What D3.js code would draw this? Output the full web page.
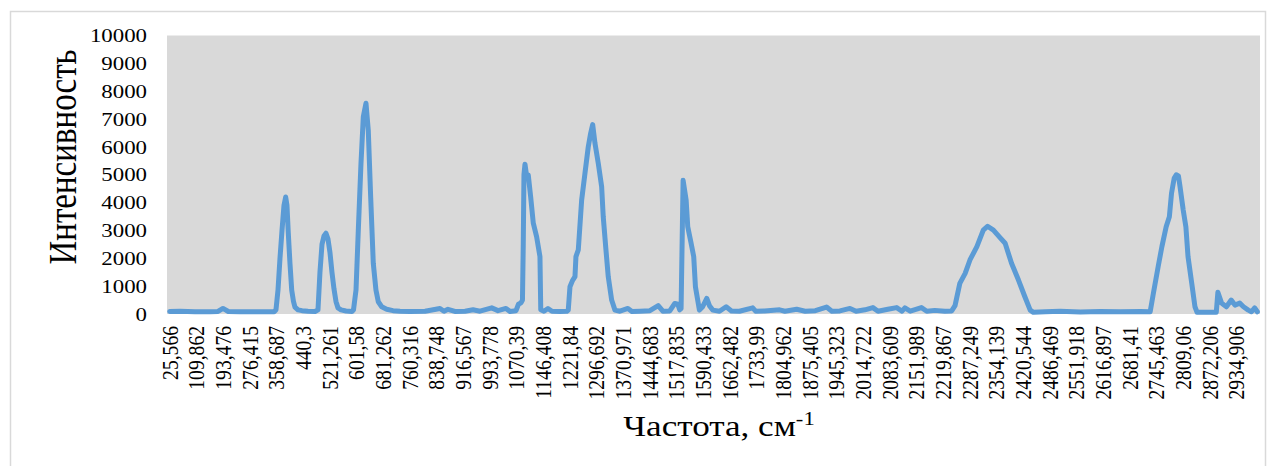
<!DOCTYPE html>
<html>
<head>
<meta charset="utf-8">
<script src="https://cdn.jsdelivr.net/npm/d3@7/dist/d3.min.js"></script>
<style>
  html, body { margin: 0; padding: 0; background: #ffffff; }
  svg { display: block; }
  text { font-family: "Liberation Serif", "Times New Roman", serif; fill: #000; }
</style>
</head>
<body>
<svg id="chart" width="1277" height="466"></svg>
<script>
// Wavenumber labels shown on the category axis (every 5th category)
const tickLabels = [
  "25,566", "109,862", "193,476", "276,415", "358,687", "440,3", "521,261",
  "601,58", "681,262", "760,316", "838,748", "916,567", "993,778", "1070,39",
  "1146,408", "1221,84", "1296,692", "1370,971", "1444,683", "1517,835",
  "1590,433", "1662,482", "1733,99", "1804,962", "1875,405", "1945,323",
  "2014,722", "2083,609", "2151,989", "2219,867", "2287,249", "2354,139",
  "2420,544", "2486,469", "2551,918", "2616,897", "2681,41", "2745,463",
  "2809,06", "2872,206", "2934,906"
];
const categoryCount = 205;
const labelEvery = 5;

// Intensity ticks
const yTickValues = [0, 1000, 2000, 3000, 4000, 5000, 6000, 7000, 8000, 9000, 10000];

// Spectrum: position along the category axis and measured intensity
const catPos = [
  0, 1.94, 4.75, 7.57, 9.07, 10.0, 11.0, 13.2, 16.9, 19.6,
  19.94, 20.32, 20.69, 21.07, 21.44, 21.76, 22.0, 22.25, 22.57, 22.89,
  23.22, 23.5, 24.07, 24.82, 25.94, 27.26,
  27.82, 28.19, 28.57, 28.94, 29.32, 29.69, 30.07, 30.44, 30.82, 31.19,
  31.57, 32.13, 33.07, 34.19,
  34.48, 34.95, 35.38, 35.88, 36.32, 36.82, 37.25, 37.7, 38.19, 38.69,
  39.13, 39.77, 40.7, 41.89,
  43.2, 45.07, 47.9, 50.7, 51.45, 52.2, 53.5, 55.4, 56.9, 58.2,
  60.4, 61.58, 63.08, 63.83, 64.96,
  65.42, 65.89, 66.17, 66.32, 66.45, 66.64, 66.92, 67.26, 67.71, 68.2,
  68.83, 69.45, 69.6, 70.2, 70.95, 71.7, 73.2, 74.5,
  74.76, 75.08, 75.55, 76.02, 76.2, 76.64, 77.27, 77.89, 78.51, 78.96,
  79.34, 79.77, 80.39, 81.02, 81.32, 81.83, 82.26, 82.9, 83.52,
  84.45, 85.95, 86.7, 88.2, 90.07, 91.63, 92.5, 93.8, 94.74, 95.3, 95.67,
  95.92, 96.3, 96.87, 97.17, 97.8, 98.29, 98.61, 99.36, 99.92, 100.74,
  101.24, 101.86, 103.12, 104.37, 105.37, 106.87, 109.35, 109.9,
  111.6, 114.4, 115.4, 117.6, 119.2, 121.1, 123.2, 124.2, 125.7, 127.6,
  128.75, 130.4, 131.9, 132.85, 134.7, 136.35, 137.35, 137.9, 138.9, 141.0,
  142.0, 143.5, 145.4, 146.67,
  147.3, 148.2, 149.2, 150.1, 151.4, 152.6, 153.4, 154.5, 155.7, 156.7,
  157.9, 159.2, 160.4, 161.4, 162.0,
  164.2, 167.0, 170.8, 174.5, 178.3, 182.1, 183.9,
  184.5, 185.4, 186.1, 186.9, 187.5, 187.9, 188.4, 188.8, 189.2, 189.5,
  190.1, 190.6, 191.0, 191.7, 192.3, 192.7, 194.1, 196.3,
  196.6, 197.3, 197.7, 198.2, 199.1, 199.8, 200.7, 201.4, 202.3, 202.9,
  203.5, 204.0
];
const intensity = [
  90, 100, 80, 80, 90, 200, 90, 80, 80, 80,
  150, 860, 2000, 3000, 3900, 4200, 3900, 2900, 1800, 860,
  450, 250, 150, 120, 100, 90,
  150, 1500, 2500, 2800, 2900, 2700, 2200, 1500, 900, 450,
  220, 150, 110, 90,
  150, 860, 3000, 5400, 7080, 7570, 6600, 4200, 1820, 860,
  440, 260, 170, 120,
  100, 90, 100, 200, 100, 170, 90, 100, 150, 100,
  220, 120, 200, 90, 120,
  350, 400, 500, 2500, 5000, 5380, 5000, 4990, 4200, 3260,
  2770, 2060, 150, 100, 200, 100, 90, 100,
  140, 980, 1200, 1340, 2060, 2300, 4090, 5050, 6000, 6490,
  6800, 6130, 5410, 4570, 3490, 2300, 1340, 500, 140,
  100, 200, 90, 100, 120, 300, 100, 110, 380, 350, 150,
  200, 4800, 4090, 3130, 2540, 2060, 980, 140, 250, 560,
  300, 140, 100, 260, 110, 100, 220, 100,
  110, 150, 100, 170, 100, 120, 250, 100, 110, 200,
  100, 150, 230, 100, 170, 230, 100, 220, 100, 230,
  100, 130, 100, 110,
  300, 1100, 1460, 1940, 2420, 3010, 3150, 3010, 2750, 2540,
  1820, 1220, 620, 140, 60,
  80, 100, 70, 90, 80, 90, 80,
  740, 1700, 2420, 3130, 3490, 4330, 4870, 5000, 4960, 4570,
  3730, 3130, 2060, 1100, 260, 60, 60, 60,
  780, 390, 330, 260, 500, 320, 390, 260, 140, 80,
  220, 80
];

const svg = d3.select("#chart");
const plot = { left: 167, right: 1260, top: 35.5, bottom: 314 };
const sx = 1.19; // horizontal stretch applied to text

// Outer chart frame
svg.append("rect")
  .attr("x", 10.5).attr("y", 11.5)
  .attr("width", 1255).attr("height", 470)
  .attr("fill", "#fff")
  .attr("stroke", "#d9d9d9").attr("stroke-width", 1.5);

// Plot area background
svg.append("rect")
  .attr("x", plot.left).attr("y", plot.top)
  .attr("width", plot.right - plot.left).attr("height", plot.bottom - plot.top)
  .attr("fill", "#d9d9d9");

const x = d3.scaleLinear()
  .domain([-0.5, categoryCount - 0.5])
  .range([plot.left, plot.right]);
const y = d3.scaleLinear()
  .domain([0, 10000])
  .range([plot.bottom, plot.top]);

// Y axis labels
const yAxis = svg.append("g").attr("class", "y-axis");
yAxis.selectAll("text")
  .data(yTickValues)
  .join("text")
  .attr("transform", d => `translate(147,${y(d)}) scale(${sx},1)`)
  .attr("text-anchor", "end")
  .attr("dy", "0.35em")
  .attr("font-size", 19.2)
  .text(d => d);

// X axis labels, rotated
const xAxis = svg.append("g").attr("class", "x-axis");
xAxis.selectAll("text")
  .data(tickLabels)
  .join("text")
  .attr("transform", (d, i) => `translate(${x(i * labelEvery)},326) scale(${sx},1) rotate(-90)`)
  .attr("text-anchor", "end")
  .attr("dy", "0.35em")
  .attr("font-size", 19.6)
  .text(d => d);

// Spectrum line
const points = catPos.map((c, i) => ({ c, v: intensity[i] }));
const line = d3.line()
  .x(d => x(d.c))
  .y(d => y(d.v));
svg.append("path")
  .datum(points)
  .attr("d", line)
  .attr("fill", "none")
  .attr("stroke", "#5b9bd5")
  .attr("stroke-width", 5)
  .attr("stroke-linejoin", "round")
  .attr("stroke-linecap", "round");

// Axis titles
svg.append("text")
  .attr("transform", `translate(76,157) scale(${sx},1) rotate(-90)`)
  .attr("text-anchor", "middle")
  .attr("font-size", 33)
  .text("Интенсивность");

const xt = svg.append("text")
  .attr("transform", `translate(719,436) scale(${sx},1)`)
  .attr("text-anchor", "middle")
  .attr("font-size", 29.5);
xt.append("tspan").text("Частота, см");
xt.append("tspan").attr("font-size", 19).attr("dy", -11).text("-1");
</script>
</body>
</html>
